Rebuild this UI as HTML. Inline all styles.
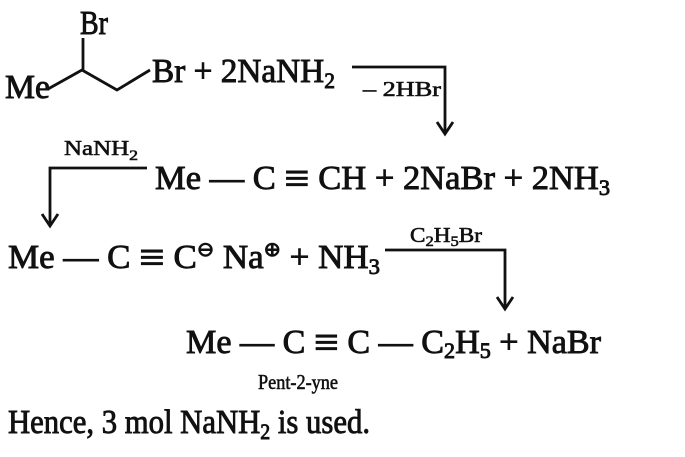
<!DOCTYPE html>
<html><head><meta charset="utf-8"><style>
html,body{margin:0;padding:0;background:#fff;}
svg{display:block;}
text{font-family:"Liberation Serif",serif;fill:#111;stroke:#111;stroke-width:0.9;}
.s{font-size:34px;}
.m{font-size:21px;stroke-width:0.6;}
</style></head><body>
<svg width="685" height="457" viewBox="0 0 685 457" xmlns="http://www.w3.org/2000/svg">
<g stroke="#111" stroke-width="2.8" fill="none">
<polyline points="48,89 82,70 117,90 150,70"/>
<line x1="83" y1="70" x2="83" y2="38"/>
<polyline points="352,67 445,67 445,132"/>
<polyline points="437,122 445,134 453,122"/>
<polyline points="147,168 50,168 50,224"/>
<polyline points="42,214 50,226 58,214"/>
<polyline points="385,250 505,250 505,307"/>
<polyline points="497,297 505,309 513,297"/>
</g>
<text class="s" x="80" y="34" textLength="28" lengthAdjust="spacingAndGlyphs">Br</text>
<text class="s" x="5" y="98" textLength="45" lengthAdjust="spacingAndGlyphs">Me</text>
<text class="s" x="152" y="82" textLength="183" lengthAdjust="spacingAndGlyphs">Br + 2NaNH<tspan font-size="22" dy="6">2</tspan></text>
<text class="m" x="363" y="96" textLength="78" lengthAdjust="spacingAndGlyphs">– 2HBr</text>
<text class="m" x="64" y="155" textLength="74" lengthAdjust="spacingAndGlyphs">NaNH<tspan font-size="15" dy="5">2</tspan></text>
<text class="s" x="155" y="189" textLength="455" lengthAdjust="spacingAndGlyphs">Me — C <tspan font-size="44" dy="4">≡</tspan><tspan dy="-4"> CH + 2NaBr + 2NH</tspan><tspan font-size="22" dy="6">3</tspan></text>
<text class="s" x="8" y="268" textLength="372" lengthAdjust="spacingAndGlyphs">Me — C <tspan font-size="44" dy="4">≡</tspan><tspan dy="-4"> C</tspan><tspan font-size="20" dy="-12">⊖</tspan><tspan dy="12"> Na</tspan><tspan font-size="20" dy="-12">⊕</tspan><tspan dy="12">  + NH</tspan><tspan font-size="22" dy="6">3</tspan></text>
<text class="m" x="410" y="242" textLength="72" lengthAdjust="spacingAndGlyphs">C<tspan font-size="15" dy="4">2</tspan><tspan dy="-4">H</tspan><tspan font-size="15" dy="4">5</tspan><tspan dy="-4">Br</tspan></text>
<text class="s" x="186" y="353" textLength="415" lengthAdjust="spacingAndGlyphs">Me — C <tspan font-size="44" dy="4">≡</tspan><tspan dy="-4"> C — C</tspan><tspan font-size="22" dy="5">2</tspan><tspan dy="-5">H</tspan><tspan font-size="22" dy="5">5</tspan><tspan dy="-5"> + NaBr</tspan></text>
<text class="m" x="258" y="389" textLength="80" lengthAdjust="spacingAndGlyphs">Pent-2-yne</text>
<text class="s" x="8" y="433" textLength="362" lengthAdjust="spacingAndGlyphs">Hence, 3 mol NaNH<tspan font-size="22" dy="6">2</tspan><tspan dy="-6"> is used.</tspan></text>
</svg>
</body></html>
